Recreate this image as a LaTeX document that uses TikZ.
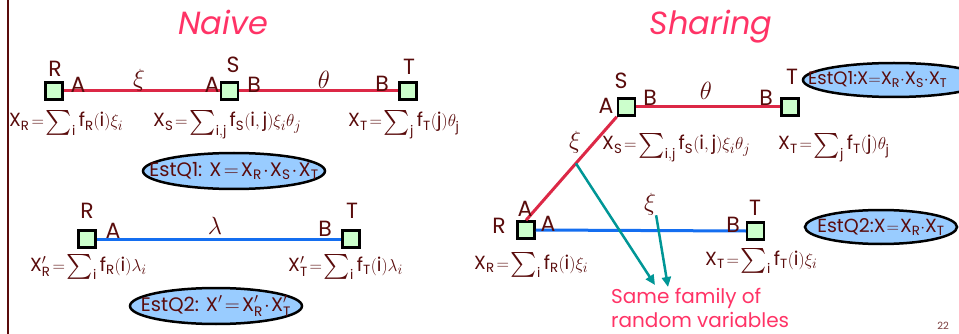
\documentclass[tikz,border=0pt]{standalone}
\usepackage{amsmath}
\usepackage{fontspec}
\setmainfont{Poppins}
\setsansfont{Poppins}
\usetikzlibrary{arrows.meta,shapes.geometric,calc}
\definecolor{txt}{RGB}{90,12,12}
\definecolor{ttl}{RGB}{255,51,102}
\definecolor{redl}{RGB}{220,40,70}
\definecolor{bluel}{RGB}{20,110,240}
\definecolor{teal2}{RGB}{0,150,150}
\definecolor{boxg}{RGB}{204,255,204}
\definecolor{ellb}{RGB}{153,204,255}
\newcommand{\sx}[1]{\mathsf{#1}}
\newcommand{\bsum}{\mathop{\vcenter{\hbox{\fontsize{24}{24}\selectfont$\textstyle\sum$}}}\nolimits}
\newcommand{\tight}{\medmuskip=1mu\thickmuskip=2mu\relax}
\newcommand{\tightest}{\medmuskip=0mu\thickmuskip=0mu\relax}
\newcommand{\tighter}{\medmuskip=0mu\thickmuskip=1mu\relax}
\tikzset{
  relbox/.style={draw=black, line width=2.5pt, fill=boxg, minimum size=17pt, inner sep=0pt},
  lab/.style={text=txt, font=\fontsize{22}{24}\selectfont, inner sep=0pt},
  greek/.style={text=txt, font=\fontsize{26}{28}\selectfont, inner sep=0pt},
  formula/.style={text=txt, font=\fontsize{19}{22}\selectfont\tight, inner sep=0pt, anchor=base west},
  title/.style={text=ttl, font=\fontsize{32}{36}\selectfont\itshape, inner sep=0pt, anchor=base},
  estshape/.style={ellipse, draw=black, line width=2.5pt, fill=ellb, inner sep=0pt},
  esttext/.style={text=txt, font=\fontsize{19.5}{22}\selectfont\tight, inner sep=0pt},
  redline/.style={draw=redl, line width=3pt},
  blueline/.style={draw=bluel, line width=3pt},
  tealarrow/.style={draw=teal2, line width=2.5pt, -{Triangle[length=10pt,width=9pt]}},
}
\begin{document}
\begin{tikzpicture}[x=1pt,y=-1pt]
\useasboundingbox (0,0) rectangle (959,334);
\fill[white] (0,0) rectangle (959,334);
\draw[draw=txt, line width=2pt] (8,0) -- (8,334);

% ---------- Naive ----------
\node[title] (tn) at (223,35) {Naive};
\node[relbox] (r1) at (54,91) {};
\node[relbox] (s1) at (229.5,91) {};
\node[relbox] (t1) at (408,91) {};
\draw[redline] (r1.east) -- (s1.west);
\draw[redline] (s1.east) -- (t1.west);
\node[lab] (r1l) at (55,69) {R};
\node[lab] (r1a) at (78,85) {A};
\node[greek] (xi1) at (139,80) {$\xi$};
\node[lab] (s1a) at (212,85) {A};
\node[lab] (s1l) at (233,65) {S};
\node[lab] (s1b) at (254,85) {B};
\node[greek] (th1) at (324,80) {$\theta$};
\node[lab] (t1b) at (382,84) {B};
\node[lab] (t1l) at (409,67) {T};
\node[formula] (fr1) at (9,127) {$\sx{X}_{\sx{R}}=\bsum_{\sx{i}}\sx{f}_{\sx{R}}\sx{(i)}\xi_i$};
\node[formula] (fs1) at (153,127) {$\sx{X}_{\sx{S}}=\bsum_{\sx{i,j}}\sx{f}_{\sx{S}}\sx{(i,j)}\xi_i\theta_j$};
\node[formula] (ft1) at (348,127) {$\sx{X}_{\sx{T}}=\bsum_{\sx{j}}\sx{f}_{\sx{T}}\sx{(j)}\theta_{\sx{j}}$};
\node[estshape, minimum width=182pt, minimum height=36pt] (e1) at (234,171) {};
\node[esttext] (e1t) at (e1.center) {EstQ1: $\sx{X}=\sx{X}_{\sx{R}}\cdot\sx{X}_{\sx{S}}\cdot\sx{X}_{\sx{T}}$};

\node[relbox] (r3) at (87,239) {};
\node[relbox] (t3) at (351,239) {};
\draw[blueline] (r3.east) -- (t3.west);
\node[lab] (r3l) at (87,211) {R};
\node[lab] (r3a) at (113,231) {A};
\node[greek] (la3) at (215,226) {$\lambda$};
\node[lab] (t3b) at (325,229) {B};
\node[lab] (t3l) at (352,211) {T};
\node[formula] (fr3) at (30,271) {$\sx{X}'_{\sx{R}}=\bsum_{\sx{i}}\sx{f}_{\sx{R}}\sx{(i)}\lambda_i$};
\node[formula] (ft3) at (288,271) {$\sx{X}'_{\sx{T}}=\bsum_{\sx{i}}\sx{f}_{\sx{T}}\sx{(i)}\lambda_i$};
\node[estshape, minimum width=172pt, minimum height=36pt] (e2) at (216,306) {};
\node[esttext] (e2t) at (e2.center) {EstQ2: $\sx{X}'=\sx{X}'_{\sx{R}}\cdot\sx{X}'_{\sx{T}}$};

% ---------- Sharing ----------
\node[title] (ts) at (711,35) {Sharing};
\node[relbox] (s2) at (626.5,107) {};
\node[relbox] (t2) at (790,107) {};
\node[relbox] (r2) at (526,230) {};
\node[relbox] (t4) at (755.5,231) {};
\draw[redline] (s2.east) -- (t2.west);
\draw[redline] (s2.south west) -- (r2.north);
\draw[blueline] (r2.east) -- (t4.west);
\node[lab] (s2l) at (621,81) {S};
\node[lab] (s2a) at (606,106) {A};
\node[lab] (s2b) at (650,98) {B};
\node[greek] (th2) at (706,91) {$\theta$};
\node[lab] (t2b) at (766,98) {B};
\node[lab] (t2l) at (792,77) {T};
\node[greek] (xi2) at (575,142) {$\xi$};
\node[formula] (fs2) at (602,150) {$\sx{X}_{\sx{S}}=\bsum_{\sx{i,j}}\sx{f}_{\sx{S}}\sx{(i,j)}\xi_i\theta_j$};
\node[formula] (ft2) at (778,150) {$\sx{X}_{\sx{T}}=\bsum_{\sx{j}}\sx{f}_{\sx{T}}\sx{(j)}\theta_{\sx{j}}$};
\node[estshape, minimum width=182pt, minimum height=34pt] (e3) at (894,80) {};
\node[esttext, font=\fontsize{18}{20}\selectfont\tightest, anchor=west] (e3t) at (808,80) {EstQ1:$\sx{X}=\sx{X}_{\sx{R}}\cdot\sx{X}_{\sx{S}}\cdot\sx{X}_{\sx{T}}$};

\node[lab] (r2l) at (499,226) {R};
\node[lab] (r2a) at (525,209) {A};
\node[lab] (r2b) at (548,224) {A};
\node[greek] (xi4) at (650,204) {$\xi$};
\node[lab] (t4b) at (733,225) {B};
\node[lab] (t4l) at (755,208) {T};
\node[formula] (fr2) at (474,269) {$\sx{X}_{\sx{R}}=\bsum_{\sx{i}}\sx{f}_{\sx{R}}\sx{(i)}\xi_i$};
\node[formula] (ft4) at (705,265) {$\sx{X}_{\sx{T}}=\bsum_{\sx{i}}\sx{f}_{\sx{T}}\sx{(i)}\xi_i$};
\node[estshape, minimum width=152pt, minimum height=34pt] (e4) at (881,227) {};
\node[esttext, font=\fontsize{19}{22}\selectfont\tighter] (e4t) at (881,227) {EstQ2:$\sx{X}=\sx{X}_{\sx{R}}\cdot\sx{X}_{\sx{T}}$};

\node[text=ttl, font=\fontsize{20}{24}\selectfont, align=left, anchor=north west, inner sep=0pt] (same) at (611,288) {Same family of\\random variables};
\coordinate (a1s) at ($(s2.south west)!0.45!(r2.north)$);
\coordinate (a1e) at (655,285);
\coordinate (a2e) at (668,287);
\draw[tealarrow] (a1s) -- (a1e);
\draw[tealarrow] (xi4.south east) -- (a2e);
\node[text=txt!80, font=\fontsize{10}{12}\selectfont, inner sep=0pt] (pg) at (943,326) {22};
\end{tikzpicture}
\end{document}
